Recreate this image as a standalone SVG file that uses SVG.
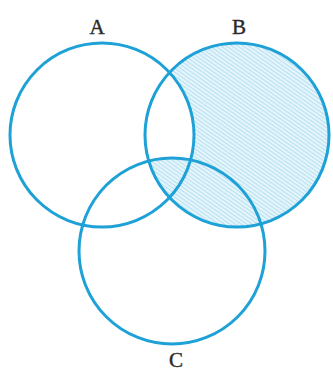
<svg xmlns="http://www.w3.org/2000/svg" width="333" height="377" viewBox="0 0 333 377">
<style>
.c{fill:none;stroke:#1ea1d6;stroke-width:3}
.t{font-family:"Liberation Serif",serif;font-size:21px;fill:#2a2a2a;stroke:#2a2a2a;stroke-width:0.4;text-anchor:middle}
</style>
<defs>
<pattern id="h" width="3.2" height="3.2" patternUnits="userSpaceOnUse" patternTransform="rotate(35)">
<rect width="3.2" height="3.2" fill="#e6f5fb"/>
<rect width="3.2" height="1" fill="#b3e0f2"/>
</pattern>
<mask id="m" maskUnits="userSpaceOnUse" x="0" y="0" width="333" height="377">
<rect width="333" height="377" fill="#fff"/>
<circle cx="102" cy="135" r="92" fill="#000"/>
<circle cx="172" cy="251" r="93" fill="#fff"/>
</mask>
</defs>
<rect width="333" height="377" fill="#fff"/>
<g id="shade">
<circle cx="237" cy="135" r="92" fill="url(#h)" mask="url(#m)"/>
</g>
<g id="A"><circle class="c" cx="102" cy="135" r="92"/><text class="t" x="97" y="34">A</text></g>
<g id="B"><circle class="c" cx="237" cy="135" r="92"/><text class="t" x="239" y="34">B</text></g>
<g id="C"><circle class="c" cx="172" cy="251" r="93"/><text class="t" x="176" y="367">C</text></g>
</svg>
